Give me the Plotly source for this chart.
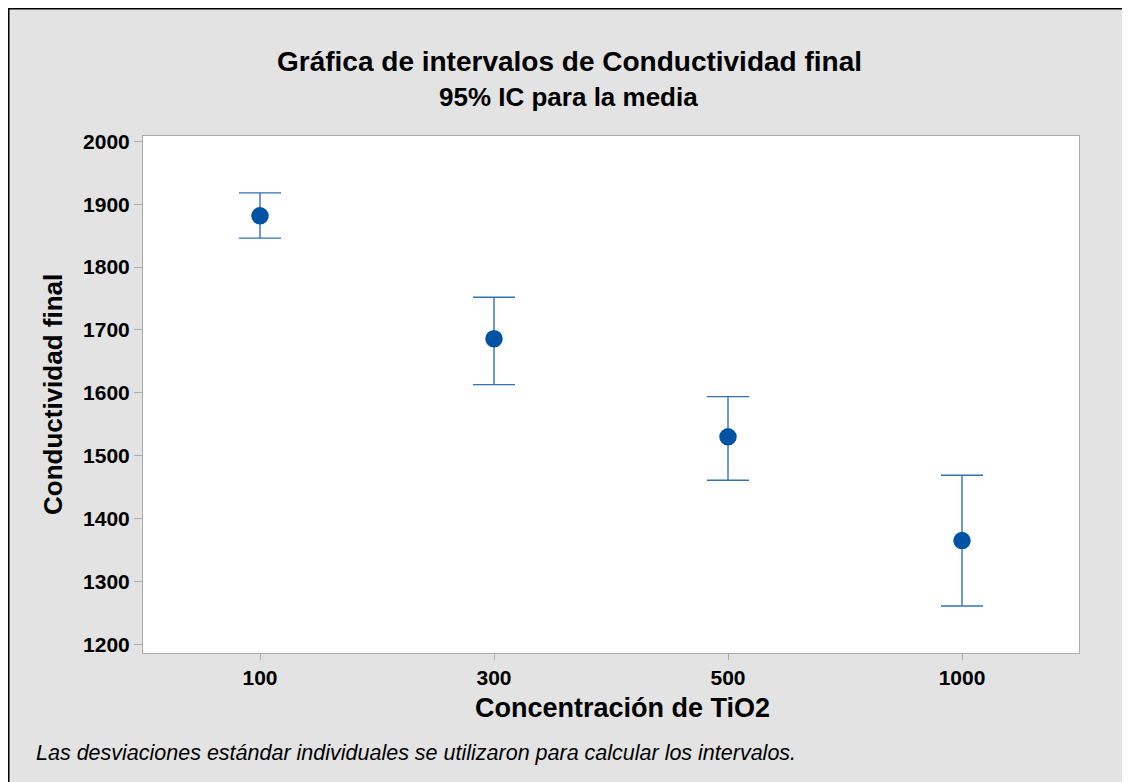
import plotly.graph_objects as go

categories = ["100", "300", "500", "1000"]
means = [1881.5, 1686, 1530, 1365]
upper = [1918, 1752, 1594, 1469]
lower = [1846, 1613, 1461, 1261]
y_ticks = [1200, 1300, 1400, 1500, 1600, 1700, 1800, 1900, 2000]

err_plus = [u - m for u, m in zip(upper, means)]
err_minus = [m - l for m, l in zip(means, lower)]

# page offset of the figure (browser body margin)
OFF = 8
W, H = 1130 - OFF, 782 - OFF
ML, MT = 143 - OFF, 136 - OFF
MR, MB = W - (1079 - OFF), H - (653 - OFF)
PW, PH = W - ML - MR, H - MT - MB


def px(x):
    return (x - OFF - ML) / PW


def py(y):
    return (H - MB - (y - OFF)) / PH


FONT = "Liberation Sans, Arial, sans-serif"
BG = "#e3e3e3"

fig = go.Figure()
fig.add_trace(go.Scatter(
    x=categories, y=means, mode="markers",
    marker=dict(size=17.5, color="#0052a5"),
    error_y=dict(type="data", symmetric=False, array=err_plus, arrayminus=err_minus,
                 color="#3170bb", thickness=1.4, width=21),
    showlegend=False, hoverinfo="skip",
))

shapes = [
    dict(type="line", xref="paper", yref="paper", x0=px(OFF), x1=px(OFF), y0=py(OFF), y1=py(800),
         line=dict(color="black", width=3)),
    dict(type="line", xref="paper", yref="paper", x0=px(OFF), x1=px(1140), y0=py(OFF), y1=py(OFF),
         line=dict(color="black", width=3)),
]

annotations = [
    dict(text="<b>Gráfica de intervalos de Conductividad final</b>", xref="paper", yref="paper",
         x=px(569), y=py(62), xanchor="center", yanchor="middle", showarrow=False,
         font=dict(family=FONT, size=28, color="black")),
    dict(text="<b>95% IC para la media</b>", xref="paper", yref="paper",
         x=px(568), y=py(97), xanchor="center", yanchor="middle", showarrow=False,
         font=dict(family=FONT, size=26, color="black")),
    dict(text="<b>Conductividad final</b>", xref="paper", yref="paper",
         x=px(53), y=py(395), xanchor="center", yanchor="middle", showarrow=False, textangle=-90,
         font=dict(family=FONT, size=26, color="black")),
    dict(text="<b>Concentración de TiO2</b>", xref="paper", yref="paper",
         x=px(622), y=py(708), xanchor="center", yanchor="middle", showarrow=False,
         font=dict(family=FONT, size=27, color="black")),
    dict(text="<i>Las desviaciones estándar individuales se utilizaron para calcular los intervalos.</i>",
         xref="paper", yref="paper", x=px(34), y=py(753), xanchor="left", yanchor="middle",
         showarrow=False, font=dict(family=FONT, size=21.5, color="black")),
]

fig.update_layout(
    width=W, height=H,
    margin=dict(l=ML, r=MR, t=MT, b=MB, pad=0),
    paper_bgcolor=BG, plot_bgcolor="white",
    shapes=shapes, annotations=annotations,
    font=dict(family=FONT, color="black"),
    xaxis=dict(type="category", range=[-0.5, 3.5], showgrid=False, zeroline=False,
               showline=True, mirror=True, linecolor="#ababab", linewidth=1,
               ticks="outside", ticklen=6, tickcolor="#ababab", tickwidth=1,
               tickfont=dict(family=FONT, size=21, color="black"),
               tickvals=categories, ticktext=["<b>%s</b>" % c for c in categories]),
    yaxis=dict(range=[1186.2, 2008.5], showgrid=False, zeroline=False,
               showline=True, mirror=True, linecolor="#ababab", linewidth=1,
               ticks="outside", ticklen=8, tickcolor="#ababab", tickwidth=1,
               tickfont=dict(family=FONT, size=21, color="black"),
               tickvals=y_ticks, ticktext=["<b>%d</b>" % v for v in y_ticks]),
)

fig.write_html("out.html", post_script="document.documentElement.style.overflow='hidden';")
